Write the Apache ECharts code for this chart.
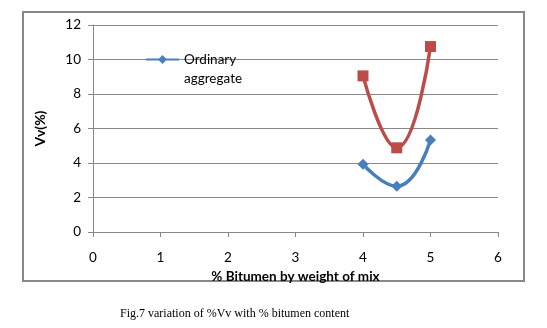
<!DOCTYPE html>
<html><head><meta charset="utf-8">
<script src="https://cdn.jsdelivr.net/npm/echarts@6/dist/echarts.min.js"></script>
<style>html,body{margin:0;padding:0;background:#fff}#c{width:547px;height:328px}</style>
</head><body><div id="c"></div>
<script>
const xValues = [4, 4.5, 5];
const ordinaryAggregate = [3.93, 2.65, 5.33];
const secondSeries = [9.05, 4.88, 10.75];
const xTicks = [0, 1, 2, 3, 4, 5, 6];
const yTicks = [0, 2, 4, 6, 8, 10, 12];

const chart = echarts.init(document.getElementById('c'));
const font = 'Lato, Open Sans, Liberation Sans, sans-serif';
chart.setOption({
  animation: false,
  title: {
    text: 'Fig.7 variation of %Vv with % bitumen content',
    left: 115, top: 303,
    textStyle: { fontFamily: 'Liberation Serif, serif', fontSize: 12, fontWeight: 'normal', color: '#000' }
  },
  graphic: [{
    type: 'rect', shape: { x: 23, y: 12, width: 501, height: 269 },
    style: { fill: 'none', stroke: '#888', lineWidth: 2 }, silent: true
  }],
  legend: {
    data: ['Ordinary aggregate'],
    formatter: function (name) { return ' \nOrdinary\naggregate'; },
    left: 140, top: 26, itemWidth: 33, itemHeight: 11, itemGap: 2,
    textStyle: { fontFamily: font, fontSize: 13.5, color: '#000', lineHeight: 19 }
  },
  grid: { left: 93, right: 49, top: 25, bottom: 96 },
  xAxis: {
    type: 'value', min: 0, max: 6, interval: 1,
    name: '% Bitumen by weight of mix', nameLocation: 'middle', nameGap: 22,
    nameTextStyle: { fontFamily: font, fontWeight: 'bold', fontSize: 13.5, color: '#000' },
    axisLine: { lineStyle: { color: '#888' } },
    axisTick: { show: true, length: 5, lineStyle: { color: '#888' } },
    axisLabel: { fontFamily: font, fontSize: 13.5, color: '#000', margin: 19 },
    splitLine: { show: false }
  },
  yAxis: {
    type: 'value', min: 0, max: 12, interval: 2,
    name: 'Vv(%)', nameLocation: 'middle', nameGap: 46, nameRotate: 90,
    nameTextStyle: { fontFamily: font, fontWeight: 'bold', fontSize: 14, color: '#000' },
    axisLine: { show: true, lineStyle: { color: '#888' } },
    axisTick: { show: true, length: 5, lineStyle: { color: '#888' } },
    axisLabel: { fontFamily: font, fontSize: 13.5, color: '#000', margin: 12 },
    splitLine: { lineStyle: { color: '#888' } }
  },
  series: [
    {
      name: 'Ordinary aggregate', type: 'line', smooth: 0.5,
      data: xValues.map((x, i) => [x, ordinaryAggregate[i]]),
      symbol: 'diamond', symbolSize: 11,
      lineStyle: { color: '#4a7ebb', width: 3.5 },
      itemStyle: { color: '#4a7ebb' }
    },
    {
      name: 'Series2', type: 'line', smooth: 0.5,
      data: xValues.map((x, i) => [x, secondSeries[i]]),
      symbol: 'rect', symbolSize: 11,
      lineStyle: { color: '#be4b48', width: 3.5 },
      itemStyle: { color: '#be4b48' }
    }
  ]
});
</script></body></html>
